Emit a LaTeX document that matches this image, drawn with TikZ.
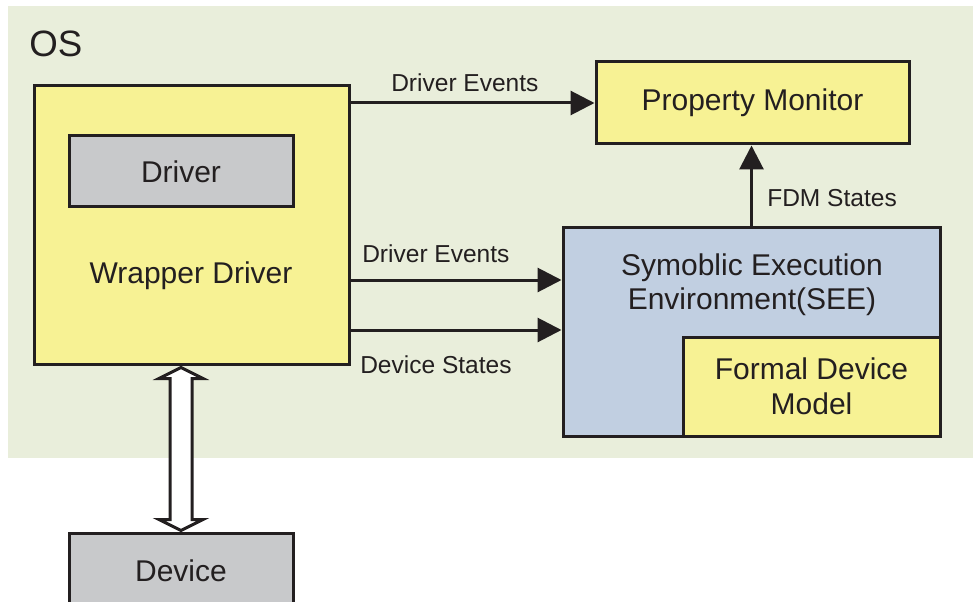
\documentclass[tikz,border=0pt]{standalone}
\usepackage{fontspec}
\setmainfont{Liberation Sans}
\usetikzlibrary{arrows.meta,calc}
\definecolor{osbg}{RGB}{233,238,219}
\definecolor{boxyellow}{RGB}{247,242,148}
\definecolor{boxgray}{RGB}{200,201,203}
\definecolor{boxblue}{RGB}{193,207,225}
\definecolor{ink}{RGB}{35,31,32}

\begin{document}
\begin{tikzpicture}[x=0.75pt,y=-0.75pt,
  box/.style={draw=ink, line width=2.25pt, inner sep=0pt},
  big/.style={font=\fontsize{22.5}{26}\selectfont, text=ink},
  small/.style={font=\fontsize{18.4}{22}\selectfont, text=ink, inner sep=0pt},
  arr/.style={draw=ink, line width=2.25pt, -{Triangle[length=18pt,width=18pt]}},
]
\useasboundingbox (0,0) rectangle (973,602);
\clip (0,0) rectangle (973,602);

% operating system area
\fill[osbg] (8,6) rectangle (990,458);
\node[font=\fontsize{27.5}{30}\selectfont, text=ink, anchor=base west, inner sep=0pt] (os) at (29,57) {OS};

% wrapper driver with the driver inside
\node[box, fill=boxyellow, minimum width=236.25pt, minimum height=208.5pt] (wrap) at (191.5,225) {};
\node[box, fill=boxgray, big, minimum width=168pt, minimum height=53.25pt] (driver) at (181,171.5) {Driver};
\node[big] (wraplabel) at (191,276) {Wrapper Driver};

% hardware device
\node[box, fill=boxgray, big, minimum width=168pt, minimum height=57pt] (device) at (181,571) {Device};

% property monitor
\node[box, fill=boxyellow, big, minimum width=234.75pt, minimum height=61.5pt] (pm) at (752.5,103) {Property Monitor};

% symbolic execution environment with the formal device model
\node[box, fill=boxblue, minimum width=282.75pt, minimum height=156.75pt] (see) at (751.5,331.5) {};
\node[big, align=center, font=\fontsize{22.5}{25.5}\selectfont] (seelabel) at (752,285) {Symoblic Execution\\Environment(SEE)};
\node[box, fill=boxyellow, big, align=center, font=\fontsize{22.5}{26}\selectfont, minimum width=192.75pt, minimum height=74.25pt] (fdm) at (811.5,386.5) {Formal Device\\Model};

% event and state flows
\draw[arr] (wrap.east |- pm.west) -- (pm.west);
\draw[arr] (wrap.east |- 0,280) -- (see.west |- 0,280);
\draw[arr] (wrap.east |- 0,330) -- (see.west |- 0,330);
\draw[arr] (see.north) -- (see.north |- pm.south);

\node[small, anchor=base west] (ev1) at (391,92) {Driver Events};
\node[small, anchor=base west] (ev2) at (362,262) {Driver Events};
\node[small, anchor=base west] (ds) at (360,373) {Device States};
\node[small, anchor=base west] (fdms) at (767,207) {FDM States};

% bidirectional link between wrapper driver and device
\coordinate (bt) at ($(wrap.south -| device.north)+(0,2)$);
\coordinate (bb) at ($(device.north)+(0,-1)$);
\draw[ink, line width=2.25pt, fill=white, line join=miter]
  (bt) -- ($(bt)+(22,11)$) -- ($(bt)+(11,11)$) -- ($(bb)+(11,-11)$)
  -- ($(bb)+(22,-11)$) -- (bb) -- ($(bb)+(-22,-11)$) -- ($(bb)+(-11,-11)$)
  -- ($(bt)+(-11,11)$) -- ($(bt)+(-22,11)$) -- cycle;
\end{tikzpicture}
\end{document}
